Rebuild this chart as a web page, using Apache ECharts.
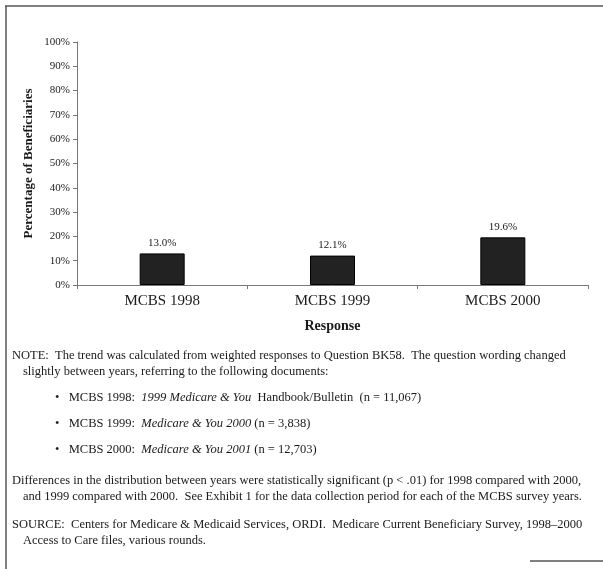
<!DOCTYPE html>
<html>
<head>
<meta charset="utf-8">
<script src="https://cdn.jsdelivr.net/npm/echarts@6/dist/echarts.min.js"></script>
<style>
  html, body { margin: 0; padding: 0; background: #fff; }
  #chart { width: 603px; height: 569px; }
</style>
</head>
<body>
<div id="chart"></div>
<script>
// data
var categories = ['MCBS 1998', 'MCBS 1999', 'MCBS 2000'];
var values = [13.0, 12.1, 19.6];
var yTicks = [0, 10, 20, 30, 40, 50, 60, 70, 80, 90, 100];

var serif = '"Liberation Serif", "Times New Roman", serif';

// note lines under the chart
var notes = [
  { x: 12, y: 356, t: 'NOTE:  The trend was calculated from weighted responses to Question BK58.  The question wording changed' },
  { x: 23, y: 372, t: 'slightly between years, referring to the following documents:' },
  { x: 55, y: 398, t: '•   MCBS 1998:  {i|1999 Medicare & You}  Handbook/Bulletin  (n = 11,067)' },
  { x: 55, y: 424, t: '•   MCBS 1999:  {i|Medicare & You 2000} (n = 3,838)' },
  { x: 55, y: 450, t: '•   MCBS 2000:  {i|Medicare & You 2001} (n = 12,703)' },
  { x: 12, y: 481, t: 'Differences in the distribution between years were statistically significant (p < .01) for 1998 compared with 2000,' },
  { x: 23, y: 497, t: 'and 1999 compared with 2000.  See Exhibit 1 for the data collection period for each of the MCBS survey years.' },
  { x: 12, y: 525, t: 'SOURCE:  Centers for Medicare & Medicaid Services, ORDI.  Medicare Current Beneficiary Survey, 1998–2000' },
  { x: 23, y: 541, t: 'Access to Care files, various rounds.' }
];

var graphics = notes.map(function (n) {
  return {
    type: 'text',
    x: n.x,
    y: n.y,
    style: {
      text: n.t,
      fontFamily: serif,
      fontSize: 12.5,
      fill: '#1a1a1a',
      verticalAlign: 'middle',
      rich: { i: { fontStyle: 'italic', fontFamily: serif, fontSize: 12.5, fill: '#1a1a1a' } }
    }
  };
});

// frame round the exhibit
graphics.push(
  { type: 'line', shape: { x1: 5, y1: 6, x2: 603, y2: 6 }, style: { stroke: '#555', lineWidth: 1.5 } },
  { type: 'line', shape: { x1: 6, y1: 6, x2: 6, y2: 569 }, style: { stroke: '#555', lineWidth: 1.5 } },
  { type: 'line', shape: { x1: 530, y1: 561, x2: 603, y2: 561 }, style: { stroke: '#555', lineWidth: 1.5 } }
);

var myChart = echarts.init(document.getElementById('chart'));
myChart.setOption({
  animation: false,
  backgroundColor: '#fff',
  grid: { left: 77, right: 15, top: 42, bottom: 284 },
  xAxis: {
    type: 'category',
    data: categories,
    name: 'Response',
    nameLocation: 'middle',
    nameGap: 34,
    nameTextStyle: { fontFamily: serif, fontSize: 14, fontWeight: 'bold', color: '#1a1a1a' },
    axisLine: { lineStyle: { color: '#777', width: 1 } },
    axisTick: { show: true, length: 4, lineStyle: { color: '#777' } },
    axisLabel: { fontFamily: serif, fontSize: 15, color: '#1a1a1a', margin: 9 }
  },
  yAxis: {
    type: 'value',
    min: yTicks[0],
    max: yTicks[yTicks.length - 1],
    interval: 10,
    name: 'Percentage of Beneficiaries',
    nameLocation: 'middle',
    nameGap: 42,
    nameMoveOverlap: false,
    nameTextStyle: { fontFamily: serif, fontSize: 13, fontWeight: 'bold', color: '#1a1a1a' },
    axisLine: { show: true, lineStyle: { color: '#777', width: 1 } },
    axisTick: { show: true, length: 4, lineStyle: { color: '#777' } },
    splitLine: { show: false },
    axisLabel: { fontFamily: serif, fontSize: 11, color: '#1a1a1a', margin: 7, formatter: '{value}%' }
  },
  series: [{
    type: 'bar',
    data: values,
    barWidth: 45,
    itemStyle: { color: '#222', borderColor: '#000', borderWidth: 1 },
    label: {
      show: true,
      position: 'top',
      distance: 5,
      fontFamily: serif,
      fontSize: 11,
      color: '#1a1a1a',
      formatter: function (p) { return p.value.toFixed(1) + '%'; }
    }
  }],
  graphic: graphics
});
</script>
</body>
</html>
